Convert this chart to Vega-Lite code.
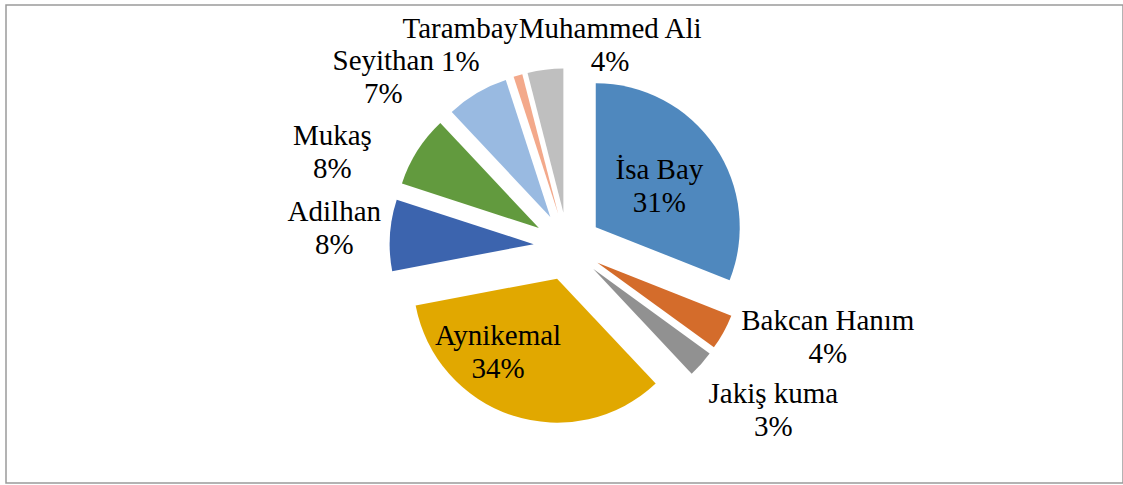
{
  "$schema": "https://vega.github.io/schema/vega-lite/v6.json",
  "width": 1117,
  "height": 478,
  "padding": {"left": 6, "top": 5, "right": 0, "bottom": 2},
  "autosize": {"type": "none"},
  "background": "white",
  "config": {
    "view": {"stroke": "#9a9a9a", "strokeWidth": 1.5},
    "text": {"font": "'Liberation Serif', 'Times New Roman', 'DejaVu Serif', serif", "fontSize": 29, "lineBreak": "\n", "lineHeight": 33, "align": "center", "baseline": "middle", "color": "black", "dy": -16}
  },
  "data": {
    "values": [
      {"name": "İsa Bay", "pct": 31, "order": 1},
      {"name": "Bakcan Hanım", "pct": 4, "order": 2},
      {"name": "Jakiş kuma", "pct": 3, "order": 3},
      {"name": "Aynikemal", "pct": 34, "order": 4},
      {"name": "Adilhan", "pct": 8, "order": 5},
      {"name": "Mukaş", "pct": 8, "order": 6},
      {"name": "Seyithan", "pct": 7, "order": 7},
      {"name": "Tarambay", "pct": 1, "order": 8},
      {"name": "Muhammed Ali", "pct": 4, "order": 9}
    ]
  },
  "transform": [
    {"window": [{"op": "sum", "field": "pct", "as": "cum1"}], "sort": [{"field": "order"}]},
    {"calculate": "datum.cum1 - datum.pct", "as": "cum0"},
    {"calculate": "datum.cum1 - datum.pct / 2", "as": "mid"},
    {"calculate": "sin(datum.mid * PI / 50)", "as": "ux"},
    {"calculate": "cos(datum.mid * PI / 50)", "as": "uy"},
    {"calculate": "datum.name + '\\n' + datum.pct + '%'", "as": "label"}
  ],
  "encoding": {
    "x": {"field": "ux", "type": "quantitative", "stack": null, "scale": {"domain": [-16.518, 16.335], "nice": false, "zero": false}, "axis": null},
    "y": {"field": "uy", "type": "quantitative", "stack": null, "scale": {"domain": [-6.962, 7.097], "nice": false, "zero": false}, "axis": null}
  },
  "layer": [
    {
      "mark": {"type": "arc", "outerRadius": 144},
      "encoding": {
        "theta": {"field": "cum0", "type": "quantitative", "stack": null, "scale": {"domain": [0, 100]}},
        "theta2": {"field": "cum1"},
        "color": {
          "field": "name",
          "type": "nominal",
          "scale": {
            "domain": ["İsa Bay", "Bakcan Hanım", "Jakiş kuma", "Aynikemal", "Adilhan", "Mukaş", "Seyithan", "Tarambay", "Muhammed Ali"],
            "range": ["#4F88BE", "#D46C2B", "#919191", "#E1A800", "#3C64AE", "#629A3E", "#99BAE1", "#F3A98B", "#BFBFBF"]
          },
          "legend": null
        }
      }
    },
    {
      "transform": [{"filter": "datum.name === 'İsa Bay'"}],
      "mark": {"type": "text", "radius": 76, "thetaOffset": 0.02},
      "encoding": {"theta": {"field": "mid", "type": "quantitative", "stack": null, "scale": {"domain": [0, 100]}}, "text": {"field": "label"}}
    },
    {
      "transform": [{"filter": "datum.name === 'Aynikemal'"}],
      "mark": {"type": "text", "radius": 94, "thetaOffset": 0.365},
      "encoding": {"theta": {"field": "mid", "type": "quantitative", "stack": null, "scale": {"domain": [0, 100]}}, "text": {"field": "label"}}
    },
    {
      "transform": [{"filter": "datum.name === 'Bakcan Hanım'"}],
      "mark": {"type": "text", "radius": 242, "thetaOffset": -0.192},
      "encoding": {"theta": {"field": "mid", "type": "quantitative", "stack": null, "scale": {"domain": [0, 100]}}, "text": {"field": "label"}}
    },
    {
      "transform": [{"filter": "datum.name === 'Jakiş kuma'"}],
      "mark": {"type": "text", "radius": 229, "thetaOffset": -0.058},
      "encoding": {"theta": {"field": "mid", "type": "quantitative", "stack": null, "scale": {"domain": [0, 100]}}, "text": {"field": "label"}}
    },
    {
      "transform": [{"filter": "datum.name === 'Adilhan'"}],
      "mark": {"type": "text", "radius": 200, "thetaOffset": 0.017},
      "encoding": {"theta": {"field": "mid", "type": "quantitative", "stack": null, "scale": {"domain": [0, 100]}}, "text": {"field": "label"}}
    },
    {
      "transform": [{"filter": "datum.name === 'Mukaş'"}],
      "mark": {"type": "text", "radius": 220, "thetaOffset": -0.213},
      "encoding": {"theta": {"field": "mid", "type": "quantitative", "stack": null, "scale": {"domain": [0, 100]}}, "text": {"field": "label"}}
    },
    {
      "transform": [{"filter": "datum.name === 'Seyithan'"}],
      "mark": {"type": "text", "radius": 218, "thetaOffset": -0.339},
      "encoding": {"theta": {"field": "mid", "type": "quantitative", "stack": null, "scale": {"domain": [0, 100]}}, "text": {"field": "label"}}
    },
    {
      "transform": [{"filter": "datum.name === 'Tarambay'"}],
      "mark": {"type": "text", "radius": 195, "thetaOffset": -0.243},
      "encoding": {"theta": {"field": "mid", "type": "quantitative", "stack": null, "scale": {"domain": [0, 100]}}, "text": {"field": "label"}}
    },
    {
      "transform": [{"filter": "datum.name === 'Muhammed Ali'"}],
      "mark": {"type": "text", "radius": 174, "thetaOffset": 0.398},
      "encoding": {"theta": {"field": "mid", "type": "quantitative", "stack": null, "scale": {"domain": [0, 100]}}, "text": {"field": "label"}}
    }
  ]
}
